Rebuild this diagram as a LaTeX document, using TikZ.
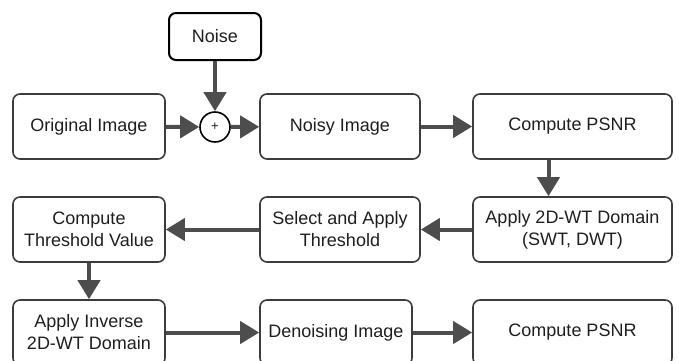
\documentclass[tikz,border=0pt]{standalone}
\usepackage{fontspec}
\setmainfont{Liberation Sans}
\usetikzlibrary{arrows.meta}
\definecolor{boxline}{HTML}{3C3C3C}
\definecolor{flowline}{HTML}{4D4D4D}
\definecolor{txt}{HTML}{1E1E1E}

\begin{document}
\begin{tikzpicture}
  [x=1pt,y=-1pt,
   every node/.style={rectangle,rounded corners=7pt,draw=boxline,line width=1.6pt,
     text=txt,align=center,minimum height=65pt,inner sep=2pt,
     font=\fontsize{18}{22}\selectfont},
   flow/.style={-{Triangle[length=19pt,width=22pt]},line width=4pt,draw=flowline}]

  \useasboundingbox (0,0) rectangle (679,360);
  \clip (0,0) rectangle (679,360);

  \node[minimum width=92pt,minimum height=47pt,draw=black,line width=2pt] (noise) at (215,36.5) {Noise};
  \node[circle,minimum size=30pt,inner sep=0pt,draw=black,font=\fontsize{13}{14}\selectfont] (sum) at (215,127) {+};

  \node[minimum width=152pt] (orig) at (89,126.5) {Original Image};
  \node[minimum width=160pt] (noisy) at (340,126.5) {Noisy Image};
  \node[minimum width=199pt] (psnr) at (572.5,126.5) {Compute PSNR};

  \node[minimum width=152pt] (thresh) at (89,229.5) {Compute\\Threshold Value};
  \node[minimum width=160pt] (select) at (340,229.5) {Select and Apply\\Threshold};
  \node[minimum width=199pt] (apply) at (572.5,229.5) {Apply 2D-WT Domain\\(SWT, DWT)};

  \node[minimum width=152pt] (inverse) at (89,332.5) {Apply Inverse\\2D-WT Domain};
  \node[minimum width=152pt] (denoise) at (336,332.5) {Denoising Image};
  \node[minimum width=199pt] (psnrb) at (572.5,332.5) {Compute PSNR};

  \foreach \from/\to in {orig/sum,sum/noisy,noisy/psnr,noise/sum,apply/select,select/thresh,thresh/inverse,inverse/denoise,denoise/psnrb}
    \draw[flow] (\from) -- (\to);
  \draw[flow] ([xshift=-24pt]psnr.south) -- ([xshift=-24pt]apply.north);
\end{tikzpicture}
\end{document}
